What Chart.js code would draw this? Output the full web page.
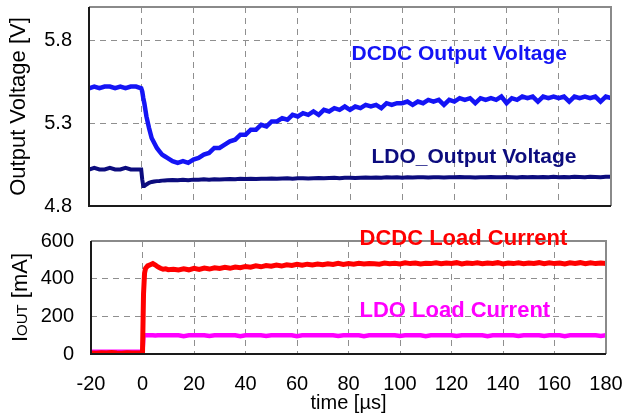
<!DOCTYPE html>
<html><head><meta charset="utf-8">
<script src="https://cdn.jsdelivr.net/npm/chart.js@4.4.0/dist/chart.umd.min.js"></script>
<style>
html,body{margin:0;padding:0;background:#fff;}
#wrap{position:relative;width:626px;height:419px;overflow:hidden;background:#fff;}
#topChart{position:absolute;left:0;top:0;}
#botChart{position:absolute;left:0;top:215px;}
</style></head><body>
<div id="wrap"><canvas id="topChart" width="626" height="215"></canvas><canvas id="botChart" width="626" height="204"></canvas></div>
<script>
// ---- data ----
const time = [-20,-18,-16,-14,-12,-10,-8,-6,-4,-2,
  0,0.4,0.8,1.2,2,3,4,5,6,7,8,9,10,
  12,14,16,18,20,22,24,26,28,30,
  32,34,36,38,40,42,44,46,48,50,
  52,54,56,58,60,62,64,66,68,70,
  72,74,76,78,80,82,84,86,88,90,
  92,94,96,98,100,102,104,106,108,110,
  112,114,116,118,120,122,124,126,128,130,
  132,134,136,138,140,142,144,146,148,150,
  152,154,156,158,160,162,164,166,168,170,
  172,174,176,178,180];
const dcdcVoltage = [5.51,5.52,5.51,5.52,5.52,5.51,5.52,5.51,5.52,5.52,
  5.51,5.49,5.45,5.42,5.34,5.27,5.21,5.18,5.15,5.13,5.11,5.10,5.09,
  5.07,5.06,5.07,5.06,5.08,5.09,5.11,5.12,5.15,5.15,
  5.17,5.19,5.20,5.23,5.23,5.26,5.26,5.29,5.28,5.31,
  5.31,5.33,5.32,5.35,5.34,5.36,5.35,5.37,5.35,5.38,
  5.37,5.39,5.38,5.40,5.38,5.40,5.39,5.41,5.40,5.41,
  5.39,5.42,5.41,5.42,5.42,5.43,5.41,5.43,5.42,5.44,
  5.43,5.44,5.41,5.44,5.43,5.45,5.44,5.45,5.42,5.45,
  5.44,5.45,5.44,5.46,5.42,5.45,5.44,5.46,5.45,5.46,
  5.43,5.46,5.45,5.46,5.45,5.46,5.43,5.46,5.45,5.46,
  5.45,5.46,5.43,5.46,5.45];
const ldoVoltage = [5.02,5.03,5.02,5.02,5.03,5.02,5.02,5.03,5.02,5.02,
  5.02,4.96,4.92,4.92,4.93,4.94,4.945,4.948,4.95,4.951,4.953,4.954,4.955,
  4.957,4.955,4.958,4.956,4.959,4.958,4.961,4.959,4.962,4.960,
  4.962,4.963,4.961,4.964,4.963,4.965,4.963,4.965,4.964,4.966,
  4.965,4.966,4.967,4.965,4.967,4.968,4.966,4.968,4.969,4.967,
  4.969,4.970,4.968,4.970,4.971,4.969,4.971,4.972,4.970,4.972,
  4.971,4.973,4.972,4.973,4.971,4.973,4.972,4.974,4.973,4.972,
  4.974,4.973,4.972,4.974,4.973,4.975,4.973,4.974,4.972,4.974,
  4.973,4.975,4.974,4.973,4.975,4.974,4.972,4.975,4.974,4.975,
  4.973,4.975,4.974,4.976,4.974,4.975,4.973,4.976,4.975,4.974,
  4.976,4.975,4.974,4.976,4.977];
const dcdcCurrent = [5,4,6,5,8,5,4,6,5,5,
  5,320,430,455,468,474,480,472,462,455,450,452,448,
  450,446,452,447,455,449,456,451,458,454,
  460,455,462,458,465,461,468,463,470,466,
  472,467,474,470,476,471,477,473,478,474,
  479,475,481,476,480,477,482,478,481,479,
  477,483,479,482,478,484,480,483,478,482,
  480,484,479,483,481,485,478,483,480,484,
  479,483,481,485,478,483,480,484,479,483,
  481,485,479,484,480,483,478,484,481,485,
  479,484,480,483,481];
const ldoCurrent = [12,12,12,12,12,12,12,12,12,12,
  12,98,100,99,100,99,100,98,99,100,99,100,99,
  99,100,95,99,100,99,100,96,99,100,
  99,100,99,95,100,99,100,99,96,100,
  99,100,99,100,95,99,100,99,100,99,
  100,99,96,100,99,100,99,95,100,99,
  99,100,99,100,96,99,100,99,100,95,
  99,100,99,100,99,96,100,99,100,99,
  100,95,99,100,99,100,99,96,100,99,
  99,100,96,99,100,99,95,100,99,100,
  99,100,99,96,100];
const timeTicks = [-20,0,20,40,60,80,100,120,140,160,180];
const voltageTicks = [4.8,5.3,5.8];
const currentTicks = [0,200,400,600];
const seriesNames = ['DCDC Output Voltage','LDO_Output Voltage','DCDC Load Current','LDO Load Current'];

// ---- styling ----
const FONT = "'Liberation Sans', Arial, Helvetica, sans-serif";
Chart.defaults.font.family = FONT;
Chart.defaults.font.size = 20;
Chart.defaults.color = '#000';
const GRID = {color:'#8f8f8f', lineWidth:1, drawTicks:false};
const BORDER = {display:false, dash:[6,5]};
const pts = arr => time.map((t,i)=>({x:t, y:arr[i]}));
function fixBox(w, h){
  return s => {
    if (w !== null) s.width = w;
    if (h !== null) s.height = h;
    s.paddingTop = 0; s.paddingBottom = 0; s.paddingLeft = 0; s.paddingRight = 0;
  };
}

const frame = {
  id:'frame',
  afterDatasetsDraw(chart){
    const {ctx, chartArea:a} = chart;
    ctx.save();
    ctx.lineWidth = 2;
    ctx.strokeStyle = '#8a8a8a';
    ctx.beginPath();
    ctx.moveTo(a.left, a.top); ctx.lineTo(a.right, a.top); ctx.lineTo(a.right, a.bottom);
    ctx.stroke();
    ctx.strokeStyle = '#1a1a1a';
    ctx.beginPath();
    ctx.moveTo(a.left, a.top); ctx.lineTo(a.left, a.bottom); ctx.lineTo(a.right, a.bottom);
    ctx.stroke();
    ctx.restore();
  }
};

function labelPlugin(items){
  return {
    id:'labels',
    afterDraw(chart){
      const ctx = chart.ctx;
      ctx.save();
      ctx.textAlign = 'left';
      ctx.textBaseline = 'alphabetic';
      items.forEach(it=>{
        const ds = chart.data.datasets[it.ds];
        ctx.font = 'bold ' + it.size + 'px ' + FONT;
        ctx.fillStyle = it.color || ds.borderColor;
        ctx.fillText(ds.label, it.x, it.y);
      });
      ctx.restore();
    }
  };
}

const ioutTitle = {
  id:'iout',
  afterDraw(chart){
    const ctx = chart.ctx;
    const a = chart.chartArea;
    const parts = [['I',22],['OUT',15],[' [mA]',22]];
    ctx.save();
    ctx.fillStyle = '#000';
    let total = 0;
    parts.forEach(p=>{ctx.font = p[1]+'px '+FONT; total += ctx.measureText(p[0]).width;});
    ctx.translate(27, (a.top + a.bottom)/2);
    ctx.rotate(-Math.PI/2);
    ctx.textBaseline = 'alphabetic';
    ctx.textAlign = 'left';
    let x = -total/2;
    parts.forEach(p=>{ctx.font = p[1]+'px '+FONT; ctx.fillText(p[0], x, 0); x += ctx.measureText(p[0]).width;});
    ctx.restore();
  }
};

// ---- top chart: output voltages ----
new Chart(document.getElementById('topChart'), {
  type:'line',
  data:{datasets:[
    {label:seriesNames[0], data:pts(dcdcVoltage), borderColor:'#1414f5', borderWidth:4.5, pointRadius:0, tension:0},
    {label:seriesNames[1], data:pts(ldoVoltage), borderColor:'#0c0c7e', borderWidth:4, pointRadius:0, tension:0}
  ]},
  options:{
    responsive:false, animation:false, devicePixelRatio:1,
    layout:{padding:{left:0,right:15,top:7,bottom:9}},
    plugins:{legend:{display:false}, tooltip:{enabled:false}},
    scales:{
      x:{type:'linear', min:-20, max:180,
         afterBuildTicks:s=>{s.ticks = timeTicks.map(v=>({value:v}));},
         afterFit:fixBox(null, 0),
         ticks:{display:false}, grid:GRID, border:BORDER},
      y:{type:'linear', min:4.8, max:6.0,
         afterBuildTicks:s=>{s.ticks = voltageTicks.map(v=>({value:v}));},
         afterFit:fixBox(89, null),
         ticks:{padding:17, font:{size:20}, callback:v=>Number(v).toFixed(1)},
         grid:GRID, border:BORDER,
         title:{display:true, text:'Output Voltage [V]', font:{size:22}, color:'#000', padding:{top:6,bottom:0}}}
    }
  },
  plugins:[frame, labelPlugin([{ds:0,x:351.5,y:60,size:21,color:'#1414f5'},{ds:1,x:371.5,y:163,size:21,color:'#0c0c7e'}])]
});

// ---- bottom chart: load currents ----
new Chart(document.getElementById('botChart'), {
  type:'line',
  data:{datasets:[
    {label:seriesNames[2], data:pts(dcdcCurrent), borderColor:'#ff0000', borderWidth:5, pointRadius:0, tension:0},
    {label:seriesNames[3], data:pts(ldoCurrent), borderColor:'#ff00ff', borderWidth:4.5, pointRadius:0, tension:0}
  ]},
  options:{
    responsive:false, animation:false, devicePixelRatio:1,
    layout:{padding:{left:0,right:20,top:26,bottom:0}},
    plugins:{legend:{display:false}, tooltip:{enabled:false}},
    scales:{
      x:{type:'linear', min:-20, max:180,
         afterBuildTicks:s=>{s.ticks = timeTicks.map(v=>({value:v}));},
         afterFit:fixBox(null, 65),
         ticks:{padding:18, font:{size:20}, maxRotation:0, autoSkip:false, callback:v=>String(v)},
         grid:GRID, border:BORDER,
         title:{display:true, text:'time [µs]', font:{size:20}, color:'#000', padding:{top:0,bottom:4}}},
      y:{type:'linear', min:0, max:600,
         afterBuildTicks:s=>{s.ticks = currentTicks.map(v=>({value:v}));},
         afterFit:fixBox(91, null),
         ticks:{padding:17, font:{size:20}, callback:v=>String(v)},
         grid:GRID, border:BORDER}
    }
  },
  plugins:[frame, ioutTitle, labelPlugin([{ds:0,x:359.5,y:30,size:22,color:'#ff0000'},{ds:1,x:359.5,y:101.5,size:22,color:'#ff00ff'}])]
});
</script>
</body></html>
